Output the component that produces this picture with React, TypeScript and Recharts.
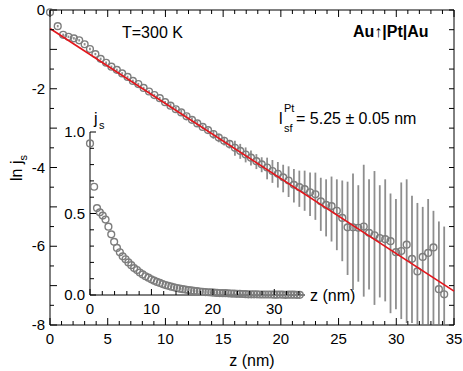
import { ScatterChart, Scatter, XAxis, YAxis, ErrorBar } from 'recharts'

// depth z (nm) of each measured layer
const zNm = [
  0, 0.67, 1.14, 1.6, 2.07, 2.53, 3.0, 3.46, 3.93, 4.39, 4.86, 5.32, 5.79, 6.25, 6.72, 7.18, 7.65,
  8.11, 8.58, 9.04, 9.51, 9.97, 10.44, 10.9, 11.37, 11.83, 12.3, 12.76, 13.23, 13.69, 14.16, 14.62,
  15.09, 15.55, 16.02, 16.48, 16.95, 17.41, 17.88, 18.34, 18.81, 19.27, 19.74, 20.2, 20.67, 21.13,
  21.6, 22.06, 22.53, 22.99, 23.46, 23.92, 24.39, 24.85, 25.32, 25.78, 26.25, 26.71, 27.18, 27.64,
  28.11, 28.57, 29.04, 29.5, 29.97, 30.43, 30.9, 31.36, 31.83, 32.29, 32.76, 33.22, 33.69, 34.15,
]

// ln j_s
const lnJs = [
  -0.06, -0.41, -0.63, -0.68, -0.72, -0.77, -0.87, -0.99, -1.12, -1.24, -1.34, -1.44, -1.52, -1.61,
  -1.7, -1.8, -1.88, -1.98, -2.07, -2.16, -2.24, -2.34, -2.43, -2.52, -2.6, -2.7, -2.79, -2.88, -2.97,
  -3.05, -3.15, -3.24, -3.32, -3.4, -3.5, -3.58, -3.67, -3.75, -3.84, -3.92, -4.0, -4.09, -4.16, -4.25,
  -4.33, -4.44, -4.5, -4.55, -4.63, -4.68, -4.86, -4.95, -4.98, -5.1, -5.28, -5.52, -5.52, -5.53, -5.5,
  -5.66, -5.72, -5.79, -5.82, -5.87, -6.15, -6.12, -5.96, -6.32, -6.64, -6.27, -6.17, -6.03, -7.09, -7.22,
]

// error bar extent below / above each point
const errLow = [
  0.03, 0.03, 0.03, 0.03, 0.03, 0.03, 0.03, 0.03, 0.03, 0.03, 0.03, 0.03, 0.03, 0.03, 0.03, 0.03, 0.03,
  0.03, 0.03, 0.03, 0.03, 0.03, 0.06, 0.06, 0.06, 0.06, 0.06, 0.06, 0.06, 0.06, 0.12, 0.12, 0.12, 0.12,
  0.2, 0.2, 0.2, 0.2, 0.2, 0.2, 0.3, 0.3, 0.35, 0.38, 0.42, 0.45, 0.5, 0.55, 0.6, 0.65, 0.75, 0.8, 0.9,
  1.0, 1.1, 1.21, 1.59, 1.37, 1.78, 1.44, 1.77, 1.51, 1.58, 1.83, 1.45, 1.73, 1.99, 1.63, 1.34, 1.71,
  1.81, 1.95, 0.89, 0.76,
]
const errHigh = [
  0.03, 0.03, 0.03, 0.03, 0.03, 0.03, 0.03, 0.03, 0.03, 0.03, 0.03, 0.03, 0.03, 0.03, 0.03, 0.03, 0.03,
  0.03, 0.03, 0.03, 0.03, 0.03, 0.06, 0.06, 0.06, 0.06, 0.06, 0.06, 0.06, 0.06, 0.1, 0.1, 0.1, 0.1,
  0.18, 0.18, 0.18, 0.18, 0.18, 0.18, 0.25, 0.28, 0.3, 0.32, 0.36, 0.4, 0.42, 0.47, 0.5, 0.55, 0.6, 0.65,
  0.75, 0.8, 0.95, 1.16, 1.37, 1.08, 1.57, 1.36, 1.63, 1.34, 1.52, 1.21, 1.35, 1.74, 1.66, 1.6, 1.74,
  1.27, 1.37, 0.93, 1.72, 1.72,
]

// j_s (inset, linear scale)
const jsInset = [
  0.93, 0.664, 0.533, 0.507, 0.487, 0.463, 0.419, 0.372, 0.326, 0.289, 0.262, 0.237, 0.219, 0.2, 0.183,
  0.165, 0.153, 0.138, 0.126, 0.115, 0.106, 0.096, 0.088, 0.08, 0.074, 0.067, 0.061, 0.056, 0.051, 0.047,
  0.043, 0.039, 0.036, 0.033, 0.03, 0.028, 0.025, 0.024, 0.021, 0.02, 0.018, 0.017, 0.016, 0.014, 0.013,
  0.012, 0.011, 0.011, 0.01, 0.009, 0.008, 0.007, 0.007, 0.006, 0.005, 0.004, 0.004, 0.004, 0.004,
  0.003, 0.003, 0.003, 0.003, 0.003, 0.002, 0.002, 0.003, 0.002, 0.001, 0.002, 0.002, 0.002, 0.001, 0.001,
]

// exponential fit, l_sf = 5.25 nm
const fitZ = [0, 35]
const fitLn = [-0.47, -7.14]

const mainXTicks = [
  0, 1, 2, 3, 4, 5, 6, 7, 8, 9, 10, 11, 12, 13, 14, 15, 16, 17, 18, 19, 20, 21, 22, 23, 24, 25, 26, 27,
  28, 29, 30, 31, 32, 33, 34, 35,
]
const mainYTicks = [-8, -7.5, -7, -6.5, -6, -5.5, -5, -4.5, -4, -3.5, -3, -2.5, -2, -1.5, -1, -0.5, 0]
const insetXTicks = [0, 2, 4, 6, 8, 10, 12, 14, 16, 18, 20, 22, 24, 26, 28, 30, 32, 34]
const insetYTicks = [0, 0.1, 0.2, 0.3, 0.4, 0.5, 0.6, 0.7, 0.8, 0.9, 1.0]

const mainPts = zNm.map((z, i) => ({ z, y: lnJs[i], err: [errLow[i], errHigh[i]] }))
const fitPts = fitZ.map((z, i) => ({ z, y: fitLn[i] }))
const insetPts = zNm.map((z, i) => ({ z, y: jsInset[i] }))

const INK = '#000'
const DOT = '#7d7d7d'

function Ring(props: any) {
  return <circle cx={props.cx} cy={props.cy} r={3.4} fill="none" stroke={DOT} strokeWidth={1.4} />
}

function NoDot() {
  return <g />
}

function MainBottomTick({ x, y, payload }: any) {
  const v = payload.value
  const major = v % 5 === 0
  return (
    <g>
      <line x1={x} x2={x} y1={y} y2={y - (major ? 7 : 4)} stroke={INK} />
      {major && (
        <text x={x} y={y + 19} textAnchor="middle" fontSize={15} fill={INK}>
          {v}
        </text>
      )}
    </g>
  )
}

function MainTopTick({ x, y, payload }: any) {
  const major = payload.value % 5 === 0
  return <line x1={x} x2={x} y1={y} y2={y + (major ? 7 : 4)} stroke={INK} />
}

function MainLeftTick({ x, y, payload }: any) {
  const v = payload.value
  const whole = Number.isInteger(v)
  const label = whole && v % 2 === 0
  return (
    <g>
      <line x1={x} x2={x + (whole ? 7 : 4)} y1={y} y2={y} stroke={INK} />
      {label && (
        <text x={x - 5} y={y + 5} textAnchor="end" fontSize={15} fill={INK}>
          {v}
        </text>
      )}
    </g>
  )
}

function MainRightTick({ x, y }: any) {
  return <line x1={x} x2={x - 5} y1={y} y2={y} stroke={INK} />
}

function InsetBottomTick({ x, y, payload }: any) {
  const v = payload.value
  const major = v % 10 === 0
  return (
    <g>
      <line x1={x} x2={x} y1={y} y2={y - (major ? 6 : 4)} stroke={INK} />
      {major && (
        <text x={x} y={y + 19} textAnchor="middle" fontSize={15} fill={INK}>
          {v}
        </text>
      )}
    </g>
  )
}

function InsetLeftTick({ x, y, payload }: any) {
  const v = payload.value
  const major = Math.abs(v * 2 - Math.round(v * 2)) < 1e-6
  return (
    <g>
      <line x1={x} x2={x + (major ? 6 : 4)} y1={y} y2={y} stroke={INK} />
      {major && (
        <text x={x - 5} y={y + 5} textAnchor="end" fontSize={15} fill={INK}>
          {v.toFixed(1)}
        </text>
      )}
    </g>
  )
}

const axisCommon = {
  type: 'number' as const,
  interval: 0 as const,
  tickSize: 0,
  tickMargin: 0,
  tickLine: false,
  stroke: INK,
}

export default function App() {
  return (
    <div
      style={{
        position: 'absolute',
        left: 0,
        top: 0,
        width: 463,
        height: 371,
        background: '#fff',
        fontFamily: '"Liberation Sans", Arial, sans-serif',
      }}
    >
      <div style={{ position: 'absolute', left: 0, top: 0 }}>
        <ScatterChart width={463} height={371} margin={{ top: 9, right: 8, bottom: 45, left: 49 }}>
          <XAxis
            {...axisCommon}
            xAxisId="b"
            dataKey="z"
            domain={[0, 35]}
            ticks={mainXTicks}
            height={1}
            tick={(p: any) => <MainBottomTick {...p} />}
          />
          <XAxis
            {...axisCommon}
            xAxisId="t"
            orientation="top"
            dataKey="z"
            domain={[0, 35]}
            ticks={mainXTicks}
            height={1}
            allowDataOverflow
            tick={(p: any) => <MainTopTick {...p} />}
          />
          <YAxis
            {...axisCommon}
            yAxisId="l"
            dataKey="y"
            domain={[-8, 0]}
            ticks={mainYTicks}
            width={1}
            tick={(p: any) => <MainLeftTick {...p} />}
          />
          <YAxis
            {...axisCommon}
            yAxisId="r"
            orientation="right"
            dataKey="y"
            domain={[-8, 0]}
            ticks={mainYTicks}
            width={1}
            allowDataOverflow
            tick={(p: any) => <MainRightTick {...p} />}
          />
          <Scatter xAxisId="b" yAxisId="l" data={mainPts} shape={Ring} isAnimationActive={false}>
            <ErrorBar dataKey="err" direction="y" width={0} stroke="#8e8e8e" strokeWidth={1.8} isAnimationActive={false} />
          </Scatter>
          <Scatter
            xAxisId="b"
            yAxisId="l"
            data={fitPts}
            line={{ stroke: '#e3161c', strokeWidth: 1.7 }}
            shape={NoDot}
            isAnimationActive={false}
          />
        </ScatterChart>
      </div>

      <div style={{ position: 'absolute', left: 0, top: 0 }}>
        <ScatterChart width={463} height={371} margin={{ top: 132, right: 158, bottom: 75, left: 89 }}>
          <XAxis
            {...axisCommon}
            dataKey="z"
            domain={[0, 35]}
            ticks={insetXTicks}
            height={1}
            tick={(p: any) => <InsetBottomTick {...p} />}
          />
          <YAxis
            {...axisCommon}
            dataKey="y"
            domain={[0, 1]}
            ticks={insetYTicks}
            width={1}
            tick={(p: any) => <InsetLeftTick {...p} />}
          />
          <Scatter data={insetPts} shape={Ring} isAnimationActive={false} />
        </ScatterChart>
      </div>

      <svg width={463} height={371} style={{ position: 'absolute', left: 0, top: 0, pointerEvents: 'none' }}>
        <text x={122} y={38} fontSize={16} fill={INK}>
          T=300 K
        </text>
        <text x={353} y={37} fontSize={16} fontWeight="bold" fill={INK}>
          Au↑|Pt|Au
        </text>
        <text x={279} y={124} fontSize={16} fill={INK}>
          l
        </text>
        <text x={284} y={112} fontSize={11} fill={INK}>
          Pt
        </text>
        <text x={284} y={132} fontSize={11} fill={INK}>
          sf
        </text>
        <text x={296} y={124} fontSize={16} fill={INK}>
          = 5.25 ± 0.05 nm
        </text>

        <text transform="translate(22,168) rotate(-90)" textAnchor="middle" fontSize={16} fill={INK}>
          ln j<tspan fontSize={11} dy={5}>s</tspan>
        </text>
        <text x={252} y={366} textAnchor="middle" fontSize={16} fill={INK}>
          z (nm)
        </text>

        <text x={94} y={124} fontSize={16} fill={INK}>
          j
        </text>
        <text x={99} y={129} fontSize={11} fill={INK}>
          s
        </text>
        <text x={310} y={301} fontSize={16} fill={INK}>
          z (nm)
        </text>
      </svg>
    </div>
  )
}
